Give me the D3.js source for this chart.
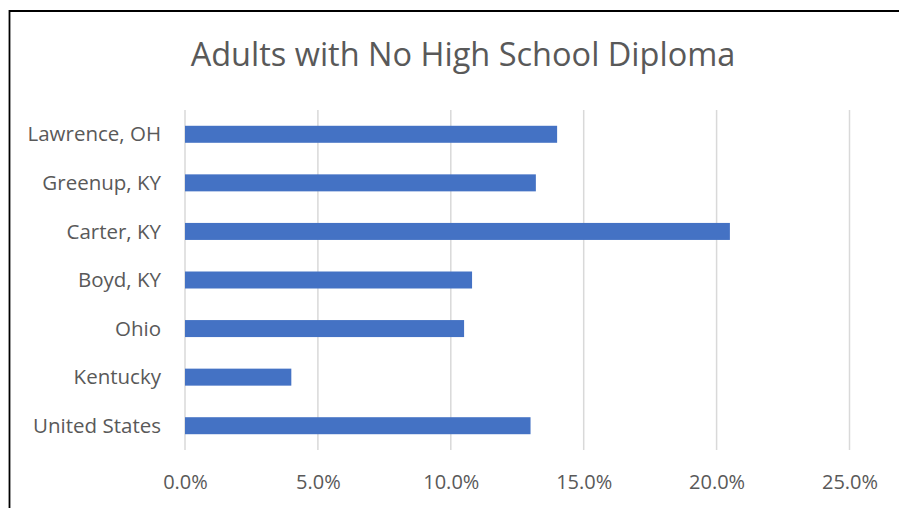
<!DOCTYPE html>
<html>
<head>
<meta charset="utf-8">
<script src="https://cdn.jsdelivr.net/npm/d3@7"></script>
<style>
  body { margin: 0; background: #fff; }
  svg { display: block; }
</style>
</head>
<body>
<script>
const categories = ["Lawrence, OH", "Greenup, KY", "Carter, KY", "Boyd, KY", "Ohio", "Kentucky", "United States"];
const values = [14.0, 13.2, 20.5, 10.8, 10.5, 4.0, 13.0];
const ticks = [0, 5, 10, 15, 20, 25];
const title = "Adults with No High School Diploma";

const W = 899, H = 508;
const plot = {left: 185, right: 849.5, top: 110, bottom: 450};
const fontFam = "'Open Sans', sans-serif";

const svg = d3.select("body").append("svg")
    .attr("width", W)
    .attr("height", H);

svg.append("rect").attr("width", W).attr("height", H).attr("fill", "#fff");

// chart frame (only top and left edges visible in the crop)
svg.append("path")
    .attr("d", "M9.5," + H + "V11H" + W)
    .attr("fill", "none")
    .attr("stroke", "#000")
    .attr("stroke-width", 1.8);

const x = d3.scaleLinear().domain([0, 25]).range([plot.left, plot.right]);
const y = d3.scaleBand().domain(categories).range([plot.top, plot.bottom]).paddingInner(0.65).paddingOuter(0.325);

// gridlines
svg.append("g")
    .selectAll("line")
    .data(ticks)
    .enter().append("line")
    .attr("x1", d => x(d)).attr("x2", d => x(d))
    .attr("y1", plot.top).attr("y2", plot.bottom)
    .attr("stroke", "#d9d9d9")
    .attr("stroke-width", 1.5);

// bars
svg.append("g")
    .selectAll("rect")
    .data(categories)
    .enter().append("rect")
    .attr("x", x(0))
    .attr("y", d => y(d))
    .attr("height", y.bandwidth())
    .attr("width", (d, i) => x(values[i]) - x(0))
    .attr("fill", "#4472c4");

// x axis labels
const xAxis = d3.axisBottom(x).tickValues(ticks).tickSize(0).tickPadding(0)
    .tickFormat(d => d.toFixed(1) + "%");
const gx = svg.append("g")
    .attr("transform", "translate(0,489)")
    .call(xAxis);
gx.select(".domain").remove();
gx.selectAll("text")
    .attr("dy", 0)
    .attr("font-family", fontFam)
    .attr("font-size", 20)
    .attr("fill", "#595959");

// y axis labels
const yAxis = d3.axisLeft(y).tickSize(0).tickPadding(0);
const gy = svg.append("g")
    .attr("transform", "translate(161,0)")
    .call(yAxis);
gy.select(".domain").remove();
gy.selectAll("text")
    .attr("dy", "0.35em")
    .attr("font-family", fontFam)
    .attr("font-size", 20.5)
    .attr("fill", "#595959");

// title
svg.append("text")
    .attr("x", 463)
    .attr("y", 66)
    .attr("text-anchor", "middle")
    .attr("font-family", fontFam)
    .attr("font-size", 32.5)
    .attr("fill", "#595959")
    .text(title);
</script>
</body>
</html>
